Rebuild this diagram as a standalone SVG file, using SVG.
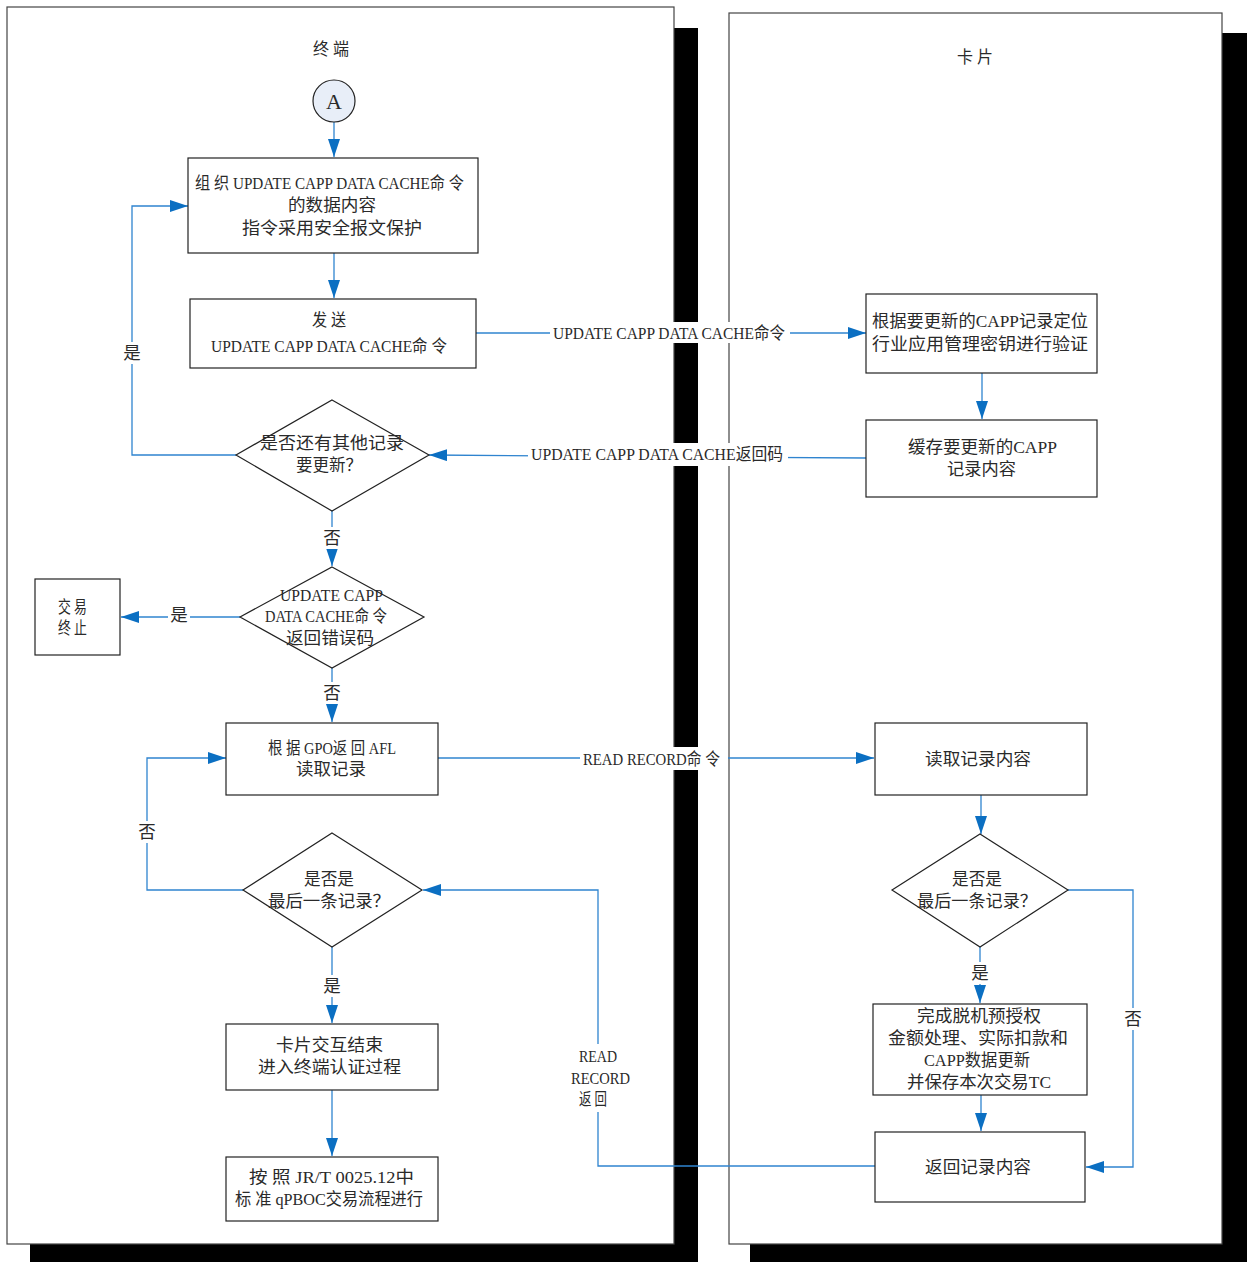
<svg xmlns="http://www.w3.org/2000/svg" width="1247" height="1262" viewBox="0 0 1247 1262">
<defs>
<marker id="ah" viewBox="0 0 18 12" refX="18" refY="6" markerWidth="18" markerHeight="12" markerUnits="userSpaceOnUse" orient="auto">
<path d="M0,0 L18,6 L0,12 z" fill="#0B6FC2"/>
</marker>
</defs>
<style>
text{font-family:"Liberation Serif","Noto Sans CJK SC",serif;font-size:16.5px;fill:#2a2a2a;dominant-baseline:central}
.c{text-anchor:middle}
.lb{font-size:17.5px}
.box{fill:#fff;stroke:#222;stroke-width:1.2}
.ln{fill:none;stroke:#2F84CF;stroke-width:1.3}
.ar{marker-end:url(#ah)}
.bg{fill:#fff}
.panel{fill:#fff;stroke:#444;stroke-width:1.2}
</style>
<rect width="1247" height="1262" fill="#fff"/>
<g id="panels">
<rect x="30" y="28" width="668" height="1240" fill="#000"/>
<rect class="panel" x="7" y="7" width="667" height="1237"/>
<rect x="750" y="33" width="500" height="1235" fill="#000"/>
<rect class="panel" x="729" y="13" width="493" height="1231"/>
<text x="313" y="49" textLength="36" lengthAdjust="spacingAndGlyphs">终 端</text>
<text x="957" y="57" textLength="36" lengthAdjust="spacingAndGlyphs">卡 片</text>
</g>
<g id="connectors">
<line class="ln ar" x1="334" y1="122" x2="334" y2="157"/>
<line class="ln ar" x1="334" y1="253" x2="334" y2="298"/>
<line class="ln ar" x1="476" y1="333" x2="866" y2="333"/>
<line class="ln ar" x1="982" y1="373" x2="982" y2="419"/>
<polyline class="ln ar" points="866,458 700,457 429,455"/>
<polyline class="ln ar" points="236,455 132,455 132,206 188,206"/>
<line class="ln ar" x1="332" y1="511" x2="332" y2="566"/>
<line class="ln ar" x1="240" y1="617" x2="121" y2="617"/>
<line class="ln ar" x1="332" y1="668" x2="332" y2="722"/>
<line class="ln ar" x1="438" y1="758" x2="874" y2="758"/>
<line class="ln ar" x1="981" y1="795" x2="981" y2="834"/>
<line class="ln ar" x1="980" y1="947" x2="980" y2="1003"/>
<line class="ln ar" x1="981" y1="1095" x2="981" y2="1131"/>
<polyline class="ln ar" points="1068,890 1133,890 1133,1167 1086,1167"/>
<polyline class="ln ar" points="875,1166 598,1166 598,890 423,890"/>
<polyline class="ln ar" points="243,890 147,890 147,758 226,758"/>
<line class="ln ar" x1="332" y1="947" x2="332" y2="1023"/>
<line class="ln ar" x1="332" y1="1090" x2="332" y2="1156"/>
<rect class="bg" x="550" y="322" width="240" height="21"/>
<text x="553" y="333" textLength="232" lengthAdjust="spacingAndGlyphs">UPDATE  CAPP  DATA  CACHE命令</text>
<rect class="bg" x="528" y="443" width="260" height="23"/>
<text x="531" y="454" textLength="252" lengthAdjust="spacingAndGlyphs">UPDATE  CAPP  DATA  CACHE返回码</text>
<rect class="bg" x="580" y="747" width="148" height="23"/>
<text x="583" y="759" textLength="137" lengthAdjust="spacingAndGlyphs">READ  RECORD命 令</text>
<rect class="bg" x="121" y="342" width="22" height="22"/>
<text class="c lb" x="132" y="353">是</text>
<rect class="bg" x="321" y="527" width="22" height="22"/>
<text class="c lb" x="332" y="538">否</text>
<rect class="bg" x="168" y="604" width="22" height="22"/>
<text class="c lb" x="179" y="615">是</text>
<rect class="bg" x="321" y="682" width="22" height="22"/>
<text class="c lb" x="332" y="693">否</text>
<rect class="bg" x="969" y="962" width="22" height="22"/>
<text class="c lb" x="980" y="973">是</text>
<rect class="bg" x="1122" y="1008" width="22" height="22"/>
<text class="c lb" x="1133" y="1019">否</text>
<rect class="bg" x="136" y="821" width="22" height="22"/>
<text class="c lb" x="147" y="832">否</text>
<rect class="bg" x="321" y="975" width="22" height="22"/>
<text class="c lb" x="332" y="986">是</text>
<rect class="bg" x="567" y="1044" width="66" height="68"/>
<text x="579" y="1056" textLength="38" lengthAdjust="spacingAndGlyphs">READ</text>
<text x="571" y="1078" textLength="59" lengthAdjust="spacingAndGlyphs">RECORD</text>
<text x="579" y="1099" textLength="28" lengthAdjust="spacingAndGlyphs">返 回</text>
</g>
<g id="startA">
<circle cx="334" cy="101" r="21" fill="#E8EEF8" stroke="#222" stroke-width="1.2"/>
<text class="c" x="334" y="101" style="font-size:22px">A</text>
</g>
<g id="buildCmd">
<rect class="box" x="188" y="158" width="290" height="95"/>
<text x="195" y="183" textLength="269" lengthAdjust="spacingAndGlyphs">组 织  UPDATE CAPP DATA CACHE命 令</text>
<text x="288" y="205" textLength="88" lengthAdjust="spacingAndGlyphs">的数据内容</text>
<text x="242" y="228" textLength="180" lengthAdjust="spacingAndGlyphs">指令采用安全报文保护</text>
</g>
<g id="sendCmd">
<rect class="box" x="190" y="299" width="286" height="69"/>
<text x="312" y="320" textLength="34" lengthAdjust="spacingAndGlyphs">发 送</text>
<text x="211" y="346" textLength="236" lengthAdjust="spacingAndGlyphs">UPDATE CAPP DATA CACHE命 令</text>
</g>
<g id="verify">
<rect class="box" x="866" y="294" width="231" height="79"/>
<text x="872" y="321" textLength="216" lengthAdjust="spacingAndGlyphs">根据要更新的CAPP记录定位</text>
<text x="872" y="344" textLength="216" lengthAdjust="spacingAndGlyphs">行业应用管理密钥进行验证</text>
</g>
<g id="cache">
<rect class="box" x="866" y="420" width="231" height="77"/>
<text x="908" y="447" textLength="149" lengthAdjust="spacingAndGlyphs">缓存要更新的CAPP</text>
<text x="947" y="469" textLength="69" lengthAdjust="spacingAndGlyphs">记录内容</text>
</g>
<g id="moreRecords">
<polygon class="box" points="332,400 429,455 332,511 236,455"/>
<text x="260" y="443" textLength="144" lengthAdjust="spacingAndGlyphs">是否还有其他记录</text>
<text x="296" y="465" textLength="66" lengthAdjust="spacingAndGlyphs">要更新？</text>
</g>
<g id="errorCode">
<polygon class="box" points="332,567 424,617 332,668 240,617"/>
<text x="280" y="595" textLength="103" lengthAdjust="spacingAndGlyphs">UPDATE CAPP</text>
<text x="265" y="616" textLength="122" lengthAdjust="spacingAndGlyphs">DATA CACHE命 令</text>
<text x="286" y="638" textLength="88" lengthAdjust="spacingAndGlyphs">返回错误码</text>
</g>
<g id="terminate">
<rect class="box" x="35" y="579" width="85" height="76"/>
<text x="58" y="607" textLength="29" lengthAdjust="spacingAndGlyphs">交 易</text>
<text x="58" y="628" textLength="29" lengthAdjust="spacingAndGlyphs">终 止</text>
</g>
<g id="readRec">
<rect class="box" x="226" y="723" width="212" height="72"/>
<text x="268" y="748" textLength="128" lengthAdjust="spacingAndGlyphs">根 据 GPO返 回 AFL</text>
<text x="296" y="769" textLength="70" lengthAdjust="spacingAndGlyphs">读取记录</text>
</g>
<g id="cardRead">
<rect class="box" x="875" y="723" width="212" height="72"/>
<text x="925" y="759" textLength="106" lengthAdjust="spacingAndGlyphs">读取记录内容</text>
</g>
<g id="cardLast">
<polygon class="box" points="980,834 1068,890 980,947 892,890"/>
<text x="952" y="879" textLength="50" lengthAdjust="spacingAndGlyphs">是否是</text>
<text x="917" y="901" textLength="120" lengthAdjust="spacingAndGlyphs">最后一条记录？</text>
</g>
<g id="complete">
<rect class="box" x="873" y="1004" width="214" height="91"/>
<text x="917" y="1016" textLength="124" lengthAdjust="spacingAndGlyphs">完成脱机预授权</text>
<text x="888" y="1038" textLength="180" lengthAdjust="spacingAndGlyphs">金额处理、实际扣款和</text>
<text x="924" y="1060" textLength="106" lengthAdjust="spacingAndGlyphs">CAPP数据更新</text>
<text x="907" y="1082" textLength="144" lengthAdjust="spacingAndGlyphs">并保存本次交易TC</text>
</g>
<g id="returnRec">
<rect class="box" x="875" y="1132" width="210" height="70"/>
<text x="925" y="1167" textLength="106" lengthAdjust="spacingAndGlyphs">返回记录内容</text>
</g>
<g id="termLast">
<polygon class="box" points="332,833 422,890 332,947 243,890"/>
<text x="304" y="879" textLength="50" lengthAdjust="spacingAndGlyphs">是否是</text>
<text x="268" y="901" textLength="122" lengthAdjust="spacingAndGlyphs">最后一条记录？</text>
</g>
<g id="cardEnd">
<rect class="box" x="226" y="1024" width="212" height="66"/>
<text x="276" y="1045" textLength="107" lengthAdjust="spacingAndGlyphs">卡片交互结束</text>
<text x="258" y="1067" textLength="143" lengthAdjust="spacingAndGlyphs">进入终端认证过程</text>
</g>
<g id="qpboc">
<rect class="box" x="226" y="1157" width="212" height="64"/>
<text x="249" y="1177" textLength="165" lengthAdjust="spacingAndGlyphs">按 照 JR/T  0025.12中</text>
<text x="235" y="1199" textLength="188" lengthAdjust="spacingAndGlyphs">标 准  qPBOC交易流程进行</text>
</g>
</svg>
